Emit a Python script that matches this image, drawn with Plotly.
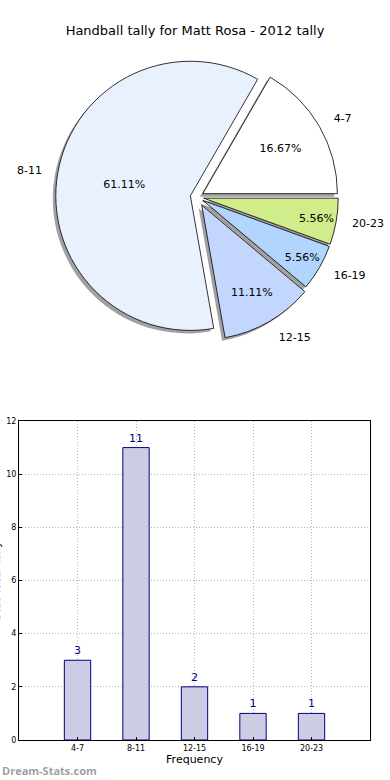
import plotly.graph_objects as go

title = "Handball tally for Matt Rosa - 2012 tally"
categories = ["4-7", "8-11", "12-15", "16-19", "20-23"]
tally = [3, 11, 2, 1, 1]
slice_colors = ["#FFFFFF", "#EAF1FE", "#C3D7FE", "#B2D5FE", "#D0EC8B"]
pulls = [0.05, 0.05, 0.07, 0.05, 0.05]
y_ticks = [0, 2, 4, 6, 8, 10, 12]
x_title = "Frequency"
y_title = "Stat Total Tally"
watermark = "Dream-Stats.com"

W, H = 390, 780
FONT = "DejaVu Sans"

# pie geometry (pixels)
cx, cy, half = 197, 197, 144
px = lambda v: v / W
py = lambda v: 1 - v / H
pie_dom_x = [px(cx - half), px(cx + half)]
pie_dom_y = [py(cy + half), py(cy - half)]
sh = 3
shadow_dom_x = [px(cx - half - sh), px(cx + half - sh)]
shadow_dom_y = [py(cy + half + sh), py(cy - half + sh)]
lh = half * 1.09
label_dom_x = [px(cx - lh), px(cx + lh)]
label_dom_y = [py(cy + lh), py(cy - lh)]

common = dict(labels=categories, values=tally, sort=False,
              direction="counterclockwise", rotation=30, pull=pulls)

fig = go.Figure()

# shadow
fig.add_trace(go.Pie(
    **common, domain=dict(x=shadow_dom_x, y=shadow_dom_y),
    marker=dict(colors=["#8a8a8a"] * 5, line=dict(width=0)),
    textinfo="none", hoverinfo="skip", showlegend=False, opacity=0.8,
    automargin=False,
))
# main pie with percentages inside
fig.add_trace(go.Pie(
    **common, domain=dict(x=pie_dom_x, y=pie_dom_y),
    marker=dict(colors=slice_colors, line=dict(color="#000000", width=0.8)),
    texttemplate="%{percent:.2%}", textposition="inside",
    insidetextorientation="horizontal",
    textfont=dict(family=FONT, size=11, color="#000000"),
    showlegend=False, automargin=False,
))
# transparent overlay for outside labels
fig.add_trace(go.Pie(
    **common, domain=dict(x=label_dom_x, y=label_dom_y),
    marker=dict(colors=["rgba(0,0,0,0)"] * 5, line=dict(width=0)),
    texttemplate="%{label}", textposition="outside",
    outsidetextfont=dict(family=FONT, size=11, color="#000000"),
    hoverinfo="skip", showlegend=False, automargin=False,
))

# bar chart
fig.add_trace(go.Bar(
    x=categories, y=tally, width=0.45,
    marker=dict(color="#CCCCE4", line=dict(color="#000080", width=1)),
    text=tally, textposition="outside", cliponaxis=False,
    textfont=dict(family=FONT, size=11, color="#000080"),
    showlegend=False,
))

ax_l, ax_r, ax_t, ax_b = 19, 370, 421, 740
grid = dict(showgrid=True, gridcolor="#b4b4b4", griddash="1px,2px", gridwidth=1,
            showline=True, linecolor="#000000", linewidth=1, mirror=True,
            ticks="inside", ticklen=3, tickcolor="#000000",
            tickfont=dict(size=8, family=FONT), zeroline=False, automargin=False)
fig.update_layout(
    width=W, height=H, margin=dict(l=0, r=0, t=0, b=0, autoexpand=False),
    paper_bgcolor="white", plot_bgcolor="white",
    font=dict(family=FONT, color="#000000"),
    title=dict(text=title, xref="paper", x=0.5, xanchor="center", y=py(30), yanchor="middle",
               font=dict(size=13, family=FONT, color="#000000"), automargin=False),
    xaxis=dict(domain=[px(ax_l), px(ax_r)], type="category", range=[-1, 5], **grid,
               title=dict(text=x_title, font=dict(size=11, family=FONT), standoff=0)),
    yaxis=dict(domain=[py(ax_b), py(ax_t)], range=[0, 12], tickvals=y_ticks, **grid),
    annotations=[
        dict(text=y_title, xref="paper", yref="paper", x=px(-4), y=py((ax_t + ax_b) / 2),
             textangle=-90, showarrow=False, xanchor="center", yanchor="middle",
             font=dict(size=11, family=FONT, color="#000000")),
        dict(text="<b>" + watermark + "</b>", xref="paper", yref="paper", x=0, y=py(770),
             xanchor="left", yanchor="middle", showarrow=False,
             font=dict(size=11, family="Open Sans", color="#a0a0a0")),
    ],
)

fig.write_html("out.html", config={"displayModeBar": False},
               post_script="document.body.style.margin='0';")
